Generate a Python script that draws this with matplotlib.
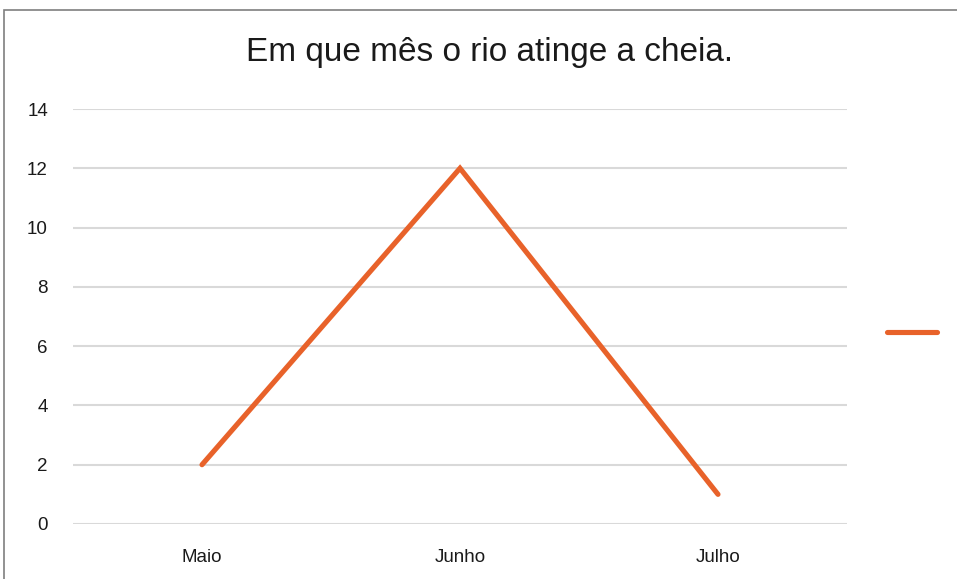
import numpy as np
import matplotlib.pyplot as plt
from matplotlib.patches import Rectangle

# datos
meses   = ['Maio', 'Junho', 'Julho']
valores = [2, 12, 1]
yticks  = [0, 2, 4, 6, 8, 10, 12, 14]

cor     = '#E8622A'
grade   = '#D9D9D9'

plt.rcParams['font.family'] = ['Liberation Sans', 'DejaVu Sans']

fig = plt.figure(figsize=(9.57, 5.79), dpi=100)
ax = fig.add_axes([73/957, 1-524/579, (847-73)/957, (524-109)/579])

x = np.arange(len(meses))
linha, = ax.plot(x, valores, color=cor, linewidth=3.7, solid_capstyle='round',
                 solid_joinstyle='miter', zorder=3)

ax.set_xlim(-0.5, len(meses) - 0.5)
ax.set_ylim(0, 14)
ax.set_yticks(yticks)
ax.set_xticks(x)
ax.set_xticklabels(meses)
ax.grid(True, axis='y', color=grade, linewidth=1.5)
ax.set_axisbelow(True)
for s in ax.spines.values():
    s.set_visible(False)
ax.tick_params(length=0, labelsize=13.5, labelcolor='#1a1a1a')
ax.tick_params(axis='x', pad=18)
ax.tick_params(axis='y', pad=18)

fig.text(489/957, 1-53/579, 'Em que mês o rio atinge a cheia.', ha='center', va='center',
         fontsize=24, color='#1a1a1a')

fig.legend(handles=[linha], labels=[' '], loc='center left',
           bbox_to_anchor=(872/957, 1-333/579), frameon=False, handlelength=3.0,
           handletextpad=0, fontsize=12)

# borda do grafico
fig.patches.append(Rectangle((4/957, -0.1), 1.2, 1-10/579 + 0.1, transform=fig.transFigure,
                             fill=False, edgecolor='#7f7f7f', linewidth=1.2))

fig.savefig('out.png', dpi=100)
